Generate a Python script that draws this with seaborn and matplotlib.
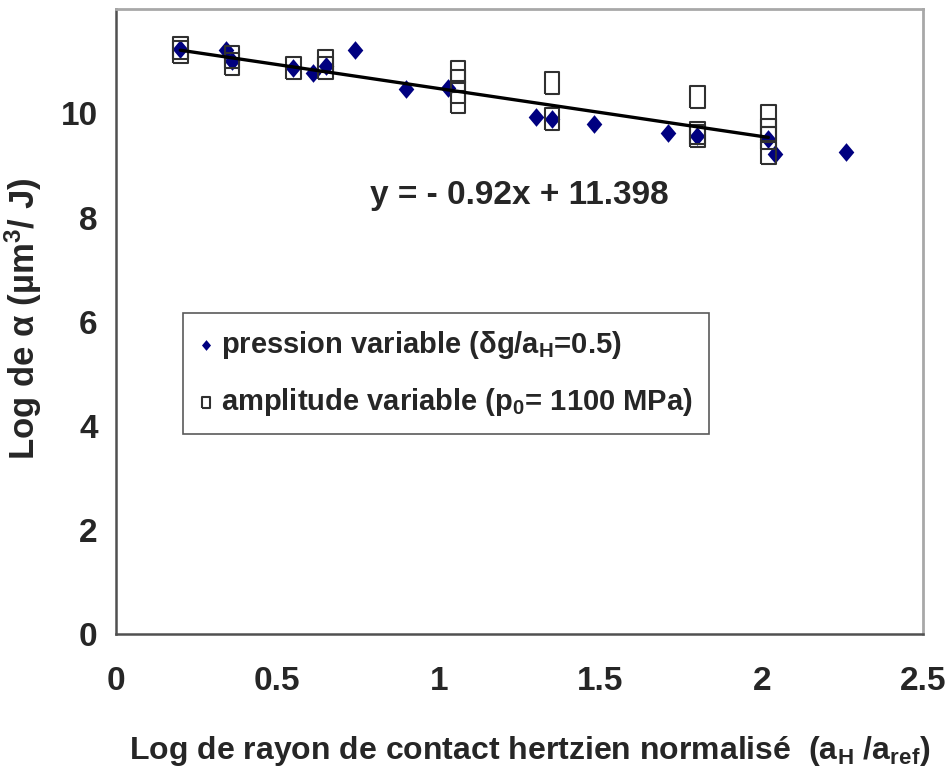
import numpy as np
import pandas as pd
import matplotlib
matplotlib.use("Agg")
import matplotlib.pyplot as plt
import seaborn as sns

# pression variable series (diamonds)
press_x = [0.20, 0.34, 0.36, 0.55, 0.61, 0.65, 0.74, 0.90, 1.03, 1.30, 1.35, 1.48, 1.71, 1.80, 2.02, 2.04, 2.26]
press_y = [11.24, 11.22, 11.00, 10.87, 10.77, 10.91, 11.22, 10.47, 10.49, 9.93, 9.89, 9.79, 9.62, 9.56, 9.51, 9.22, 9.26]

# amplitude variable series (open rectangles)
amp_x = [0.20, 0.20, 0.36, 0.36, 0.55, 0.65, 0.65, 1.06, 1.06, 1.06, 1.06, 1.35, 1.35, 1.80, 1.80, 1.80, 2.02, 2.02, 2.02, 2.02]
amp_y = [11.25, 11.18, 11.08, 10.95, 10.88, 11.01, 10.88, 10.80, 10.63, 10.41, 10.22, 10.58, 9.89, 10.31, 9.63, 9.57, 9.95, 9.68, 9.52, 9.24]

# trend line coefficients
slope = -0.92
intercept = 11.398

x_ticks = [0, 0.5, 1, 1.5, 2, 2.5]
y_ticks = [0, 2, 4, 6, 8, 10, 12]

sns.set_style("white")
plt.rcParams['font.family'] = ['Liberation Sans', 'DejaVu Sans']
plt.rcParams['font.weight'] = 'bold'
plt.rcParams['mathtext.fontset'] = 'custom'
plt.rcParams['mathtext.rm'] = 'Liberation Sans:bold'
plt.rcParams['mathtext.bf'] = 'Liberation Sans:bold'
plt.rcParams['mathtext.default'] = 'bf'

fig = plt.figure(figsize=(9.52, 7.71), dpi=100)
ax = fig.add_axes([0.1215, 0.1773, 0.8485, 0.8107])

df_p = pd.DataFrame({'x': press_x, 'y': press_y})
df_a = pd.DataFrame({'x': amp_x, 'y': amp_y})

diamond = [(0, -0.5), (0.42, 0), (0, 0.5), (-0.42, 0), (0, -0.5)]
rect = [(-0.33, -0.5), (0.33, -0.5), (0.33, 0.5), (-0.33, 0.5), (-0.33, -0.5)]

sns.scatterplot(data=df_p, x='x', y='y', marker=diamond, s=180, color='#000080',
                edgecolor='#000080', linewidth=0, ax=ax, zorder=3,
                label=r'pression variable (δg/a$_H$=0.5)')
sns.scatterplot(data=df_a, x='x', y='y', marker=rect, s=250, facecolor='none',
                edgecolor='#303030', linewidth=1.5, ax=ax, zorder=4,
                label=r'amplitude variable (p$_0$= 1100 MPa)')

tx = np.array([min(amp_x), max(amp_x)])
ax.plot(tx, slope * tx + intercept, color='black', lw=2.4, zorder=5)

ax.text(1.25, 8.42, "y = - 0.92x + 11.398", fontsize=24, fontweight='bold',
        ha='center', va='center')

ax.set_xlim(0, 2.5)
ax.set_ylim(0, 12)
ax.set_xticks(x_ticks)
ax.set_xticklabels(['0', '0.5', '1', '1.5', '2', '2.5'])
ax.set_yticks(y_ticks)
ax.set_yticklabels(['0', '2', '4', '6', '8', '10', ''])
ax.tick_params(axis='x', direction='out', length=7, width=1.5, color='#404040',
               pad=16, labelsize=24)
ax.tick_params(axis='y', direction='out', length=7, width=1.5, color='#404040',
               pad=6, labelsize=24)
for lab in ax.get_xticklabels() + ax.get_yticklabels():
    lab.set_fontweight('bold')

for side in ['left', 'bottom']:
    ax.spines[side].set_color('#505050')
    ax.spines[side].set_linewidth(1.8)
for side in ['top', 'right']:
    ax.spines[side].set_color('#a8a8a8')
    ax.spines[side].set_linewidth(2.0)

ax.set_xlabel(r'Log de rayon de contact hertzien normalisé  (a$_H$ /a$_{ref}$)',
              fontsize=23, fontweight='bold')
ax.xaxis.set_label_coords(0.513, -0.16)
ax.set_ylabel(r'Log de α (µm$^3$/ J)', fontsize=25, fontweight='bold')
ax.yaxis.set_label_coords(-0.089, 0.505)

leg = ax.legend(loc='upper left', bbox_to_anchor=(0.083, 0.514), fontsize=21,
                frameon=True, fancybox=False, edgecolor='#303030',
                handletextpad=0.25, borderpad=0.55, labelspacing=0.85,
                handlelength=0.5, borderaxespad=0)
leg.get_frame().set_linewidth(1.2)
for h in leg.legend_handles:
    h.set_sizes([60])
for t in leg.get_texts():
    t.set_fontweight('bold')

fig.savefig("out.png", dpi=100)
